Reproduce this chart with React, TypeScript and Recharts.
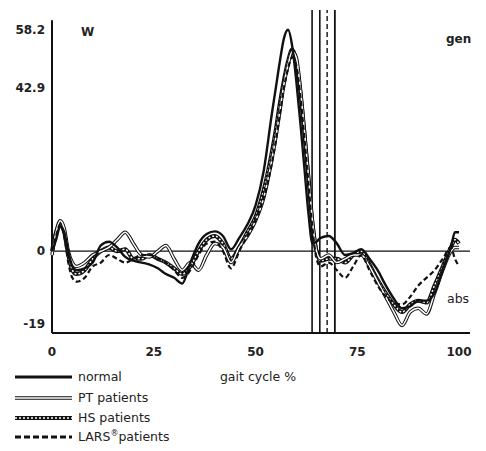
import React from 'react';
import { LineChart, Line, XAxis, YAxis, ReferenceLine } from 'recharts';

const cycle = [0, 1, 2, 3, 4, 5, 6, 8, 10, 12, 14, 16, 18, 20, 22, 24, 26, 28, 30, 32, 34, 36, 38, 40, 42, 44, 46, 48, 50, 52, 54,
  55, 56, 57, 58, 59, 60, 61, 62, 63, 64, 65, 66, 68, 70, 72, 74, 76, 78, 80, 82, 84, 86, 88, 90, 92, 94, 96, 98, 99, 100];

const normal = [0, 3, 6.5, 5, 0, -4, -5, -4.5, -3, 1.5, 2.5, 1, -1.5, -2.5, -3, -3.5, -4.5, -6, -7, -8.5, -3, 2, 4.5, 5.2, 4, 0.5, 3.5, 7, 12, 21, 36,
  43, 50, 56, 58.2, 54, 45, 34, 22, 10, 2, 2.5, 3.5, 4, 2, -1, -0.5, 0.5, -2, -5, -9, -12.5, -15, -14.5, -13, -13, -11, -5, 1, 5, 5];

const ptPatients = [-1, 5, 8, 6, 0, -3, -4, -3, -1, 0, 1, 3, 5, 2, -1, -1.5, 0, 1.5, -2, -5, -3, -5, -1, 2, 1, -3, 1, 4, 8, 14, 24,
  30, 37, 44, 49, 52.5, 51, 43, 32, 20, 8, 0, -2, -1, -3, -2, -1, -1, -4, -8, -12, -16, -19.5, -16, -15, -16.5, -11, -5, 0, 1, 1];

const hsPatients = [0, 5, 7, 5, -1, -5, -6, -5, -2, 0, 1, 0, 0.5, -2, -2, -1, -2, -3, -4.5, -6, -4, 0, 3, 4, 2, -2, 1, 5, 9, 16, 26,
  32, 39, 45, 50, 53, 50, 42, 31, 19, 7, 0, -2.5, -2, -2, -3, -1, 0, -3.5, -7.5, -11, -14, -16, -14, -13, -13.5, -9, -4, 1, 3, 2];

const larsPatients = [0, 4, 7, 4, -3, -7, -8, -7, -4, -3, -1, -2, -3, -2, -1, -1, -2, -3, -5, -7, -5, -1, 2, 2.5, 0, -4.5, 0, 4, 8, 14, 23,
  29, 36, 43, 48, 51, 49, 41, 30, 18, 6, -2, -4, -3, -5, -7, -4, -1, -5, -9, -12, -13.5, -14, -12, -9, -7, -5, -2, 1, -2, -4];

const xTicks = [0, 25, 50, 75, 100];
const yTicks = [-19, 0, 42.9, 58.2];
const toeOff = [63.9, 65.8, 67.6, 69.5];

const data = cycle.map((c, i) => ({
  c,
  normal: normal[i],
  pt: ptPatients[i],
  hs: hsPatients[i],
  lars: larsPatients[i],
}));

const font = '"DejaVu Sans", Verdana, sans-serif';
const tickStyle = { fill: '#222', fontSize: 12, fontWeight: 700, fontFamily: font };

function Legend() {
  const rows = [
    { y: 377, label: 'normal' },
    { y: 398, label: 'PT patients' },
    { y: 418, label: 'HS patients' },
    { y: 437, label: 'LARS' },
  ];
  return (
    <svg width={486} height={451} style={{ position: 'absolute', left: 0, top: 0, pointerEvents: 'none' }}>
      <g fontFamily={font} fill="#222">
        <text x={81} y={36} fontSize={12} fontWeight={700}>W</text>
        <text x={446} y={43} fontSize={12} fontWeight={700}>gen</text>
        <text x={447} y={303} fontSize={12.5}>abs</text>
        <text x={258} y={381} fontSize={12.5} textAnchor="middle">gait cycle %</text>
      </g>
      {/* normal */}
      <line x1={15} x2={72} y1={rows[0].y} y2={rows[0].y} stroke="#111" strokeWidth={3} />
      {/* PT: double line */}
      <line x1={15} x2={72} y1={rows[1].y} y2={rows[1].y} stroke="#111" strokeWidth={3.5} />
      <line x1={15} x2={72} y1={rows[1].y} y2={rows[1].y} stroke="#fff" strokeWidth={1.5} />
      {/* HS: hatched */}
      <line x1={15} x2={72} y1={rows[2].y} y2={rows[2].y} stroke="#111" strokeWidth={4} />
      <line x1={15} x2={72} y1={rows[2].y} y2={rows[2].y} stroke="#fff" strokeWidth={1.5} strokeDasharray="2 2" />
      {/* LARS: dashed */}
      <line x1={15} x2={72} y1={rows[3].y} y2={rows[3].y} stroke="#111" strokeWidth={3} strokeDasharray="6 3" />
      <g fontFamily={font} fill="#222" fontSize={12.5}>
        {rows.slice(0, 3).map((r) => (
          <text key={r.label} x={78} y={r.y + 4}>{r.label}</text>
        ))}
        <text x={78} y={rows[3].y + 4}>
          LARS<tspan fontSize={8} dy={-5}>®</tspan><tspan dy={5}>patients</tspan>
        </text>
      </g>
    </svg>
  );
}

export default function App() {
  return (
    <div style={{ position: 'absolute', left: 0, top: 0, width: 486, height: 451, background: '#fff' }}>
      <LineChart width={486} height={451} data={data} margin={{ top: 10, right: 16, left: 8, bottom: 88 }}>
        <XAxis
          dataKey="c"
          type="number"
          domain={[0, 102.7]}
          ticks={xTicks}
          tickLine={false}
          tickSize={6}
          tickMargin={8}
          height={30}
          axisLine={{ stroke: '#111', strokeWidth: 2 }}
          tick={tickStyle}
        />
        <YAxis
          type="number"
          domain={[-21.5, 63.4]}
          ticks={yTicks}
          tickLine={false}
          axisLine={false}
          tickSize={5}
          width={44}
          tick={tickStyle}
        />
        <ReferenceLine y={0} stroke="#111" strokeWidth={1.2} />
        <ReferenceLine segment={[{ x: 0, y: -21.5 }, { x: 0, y: 60.7 }]} stroke="#111" strokeWidth={2} />
        <ReferenceLine x={toeOff[0]} stroke="#111" strokeWidth={1.6} />
        <ReferenceLine x={toeOff[1]} stroke="#111" strokeWidth={1.6} />
        <ReferenceLine x={toeOff[2]} stroke="#111" strokeWidth={1.4} strokeDasharray="5 3" />
        <ReferenceLine x={toeOff[3]} stroke="#111" strokeWidth={1.8} />

        <Line dataKey="hs" type="monotone" stroke="#111" strokeWidth={4} dot={false} isAnimationActive={false} />
        <Line dataKey="hs" type="monotone" stroke="#fff" strokeWidth={1.5} strokeDasharray="2 2" dot={false} isAnimationActive={false} />
        <Line dataKey="pt" type="monotone" stroke="#111" strokeWidth={3.5} dot={false} isAnimationActive={false} />
        <Line dataKey="pt" type="monotone" stroke="#fff" strokeWidth={1.5} dot={false} isAnimationActive={false} />
        <Line dataKey="lars" type="monotone" stroke="#111" strokeWidth={2.2} strokeDasharray="5 3" dot={false} isAnimationActive={false} />
        <Line dataKey="normal" type="monotone" stroke="#111" strokeWidth={2.4} dot={false} isAnimationActive={false} />
      </LineChart>
      <Legend />
    </div>
  );
}
